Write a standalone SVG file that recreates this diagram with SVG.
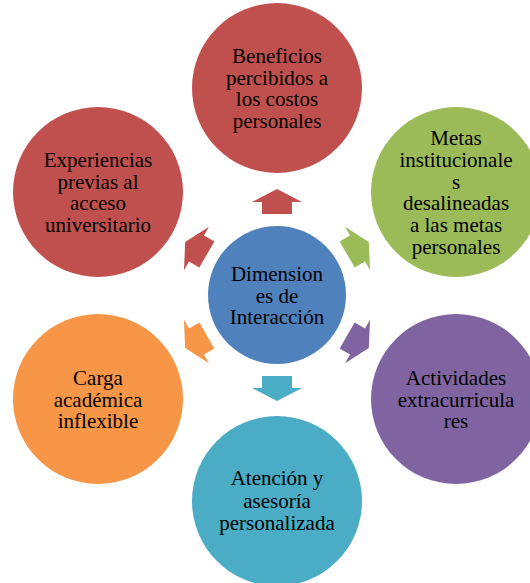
<svg xmlns="http://www.w3.org/2000/svg" width="530" height="583" viewBox="0 0 530 583">
<style>
text{font-family:"Liberation Serif","Times New Roman",serif;font-size:21px;fill:#000;text-anchor:middle}
</style>
<defs>
<polygon id="arr" points="-15,-81 -15,-93 -25,-93 0,-106 25,-93 15,-93 15,-81"/>
</defs>
<rect width="530" height="583" fill="#fff"/>
<g id="connectors">
<use href="#arr" transform="translate(277,295) rotate(0)" fill="#C0504D"/>
<use href="#arr" transform="translate(277,295) rotate(60)" fill="#9BBB59"/>
<use href="#arr" transform="translate(277,295) rotate(120)" fill="#8064A2"/>
<use href="#arr" transform="translate(277,295) rotate(180)" fill="#4BACC6"/>
<use href="#arr" transform="translate(277,295) rotate(240)" fill="#F79646"/>
<use href="#arr" transform="translate(277,295) rotate(300)" fill="#C0504D"/>
</g>
<g id="center">
<circle cx="277" cy="295" r="69" fill="#4F81BD"/>
<text x="277" y="281">Dimension</text>
<text x="277" y="302.5">es de</text>
<text x="277" y="324">Interacción</text>
</g>
<g id="top">
<circle cx="277" cy="88" r="85" fill="#C0504D"/>
<text x="277" y="63">Beneficios</text>
<text x="277" y="84.5">percibidos a</text>
<text x="277" y="106">los costos</text>
<text x="277" y="127.5">personales</text>
</g>
<g id="upper-right">
<circle cx="456" cy="192" r="85" fill="#9BBB59"/>
<text x="456" y="145">Metas</text>
<text x="456" y="166.8">institucionale</text>
<text x="456" y="188.6">s</text>
<text x="456" y="210.4">desalineadas</text>
<text x="456" y="232.2">a las metas</text>
<text x="456" y="254">personales</text>
</g>
<g id="lower-right">
<circle cx="456" cy="399" r="85" fill="#8064A2"/>
<text x="456" y="385">Actividades</text>
<text x="456" y="406.5">extracurricula</text>
<text x="456" y="428">res</text>
</g>
<g id="bottom">
<circle cx="277" cy="501" r="85" fill="#4BACC6"/>
<text x="277" y="485">Atención y</text>
<text x="277" y="507.5">asesoría</text>
<text x="277" y="530">personalizada</text>
</g>
<g id="lower-left">
<circle cx="98" cy="399" r="85" fill="#F79646"/>
<text x="98" y="385">Carga</text>
<text x="98" y="406.5">académica</text>
<text x="98" y="428">inflexible</text>
</g>
<g id="upper-left">
<circle cx="98" cy="192" r="85" fill="#C0504D"/>
<text x="98" y="167">Experiencias</text>
<text x="98" y="188.5">previas al</text>
<text x="98" y="210">acceso</text>
<text x="98" y="231.5">universitario</text>
</g>
</svg>
